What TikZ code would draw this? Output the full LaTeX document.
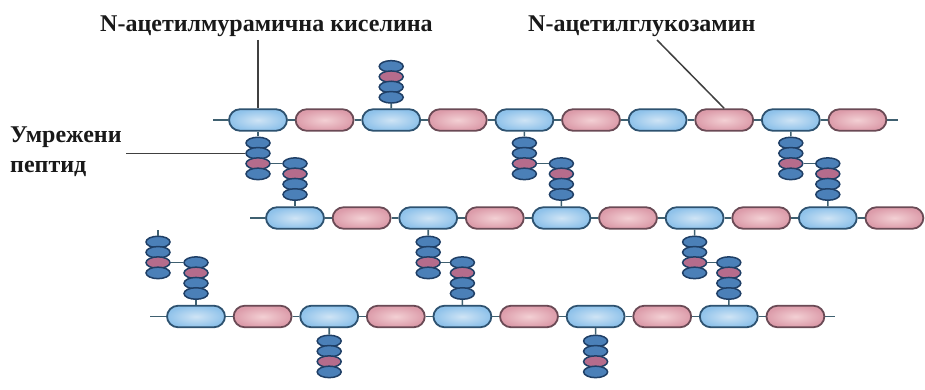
\documentclass[tikz,border=0pt]{standalone}
\usepackage{fontspec}
\usetikzlibrary{shapes.geometric}
\setmainfont{Liberation Serif}
\definecolor{sugarAin}{HTML}{CFE4F5}
\definecolor{sugarAout}{HTML}{8FC2EA}
\definecolor{sugarAline}{HTML}{2E5270}
\definecolor{sugarBin}{HTML}{F3D0D4}
\definecolor{sugarBout}{HTML}{DC9CAA}
\definecolor{sugarBline}{HTML}{6A4A55}
\definecolor{aminoA}{HTML}{4B80B8}
\definecolor{aminoB}{HTML}{B56C8C}
\definecolor{aminoline}{HTML}{1F3F66}
\definecolor{bondline}{HTML}{3F6070}
\tikzset{
  sugar/.style={rounded corners=11pt,minimum width=58pt,minimum height=21.5pt,inner sep=0pt,line width=1.8pt},
  sugarA/.style={sugar,draw=sugarAline,inner color=sugarAin,outer color=sugarAout},
  sugarB/.style={sugar,draw=sugarBline,inner color=sugarBin,outer color=sugarBout},
  amino/.style={ellipse,minimum width=24pt,minimum height=11.5pt,inner sep=0pt,draw=aminoline,line width=1.5pt},
  aminoA/.style={amino,fill=aminoA},
  aminoB/.style={amino,fill=aminoB},
  bond/.style={bondline,line width=1.6pt},
  leader/.style={black!75,line width=1.5pt},
  label/.style={font=\fontsize{24}{29}\selectfont\bfseries,inner sep=0pt,text=black!90}
}
% one glycan strand: name, x of first unit, y
\newcommand{\lanac}[3]{
  \foreach \i in {1,...,10}{
    \pgfmathsetmacro{\xpos}{#2+66.6*(\i-1)}
    \ifodd\i \node[sugarA] (#1\i) at (\xpos,#3) {};
    \else \node[sugarB] (#1\i) at (\xpos,#3) {};
    \fi
  }
  \foreach \i [remember=\i as \j (initially 1)] in {2,...,10}
    \draw[bond] (#1\j.east) -- (#1\i.west);
}
% four residues in a column: name, x, y of top residue, kinds
\newcommand{\peptid}[4]{
  \foreach \k [count=\n from 0] in {#4}{
    \pgfmathsetmacro{\ypos}{#3+10.3*\n}
    \pgfmathtruncatemacro{\m}{\n+1}
    \node[amino\k] (#1\m) at (#2,\ypos) {};
  }
}
\begin{document}
\begin{tikzpicture}[x=1pt,y=-1pt]
\useasboundingbox (0,0) rectangle (925,390);
\fill[white] (0,0) rectangle (925,390);

\coordinate (a0) at (213,120);
\coordinate (aend) at (898,120);
\coordinate (b0) at (250,218);
\coordinate (c0) at (150,316.5);
\coordinate (cend) at (835,316.5);
\coordinate (stub) at (158,230);

\lanac{a}{258}{120}
\lanac{b}{295}{218}
\lanac{c}{196}{316.5}
\draw[bond] (a0) -- (a1.west);
\draw[bond] (a10.east) -- (aend);
\draw[bond] (b0) -- (b1.west);
\draw[bond] (c0) -- (c1.west);
\draw[bond] (c10.east) -- (cend);

% peptides on the outer sides
\peptid{t}{391.2}{66.4}{A,B,A,A}
\draw[bond] (t4.south) -- (a3.north);
\peptid{u}{329.2}{341}{A,A,B,A}
\draw[bond] (c3.south) -- (u1.north);
\peptid{v}{595.6}{341}{A,A,B,A}
\draw[bond] (c7.south) -- (v1.north);

% cross-linked pairs
\peptid{d}{258}{143}{A,A,B,A}
\peptid{e}{295}{163.6}{A,B,A,A}
\draw[bond] (a1.south) -- (d1.north);
\draw[bond] (d3.east) -- (e1.west);
\draw[bond] (e4.south) -- (b1.north);

\peptid{f}{524.4}{143}{A,A,B,A}
\peptid{g}{561.4}{163.6}{A,B,A,A}
\draw[bond] (a5.south) -- (f1.north);
\draw[bond] (f3.east) -- (g1.west);
\draw[bond] (g4.south) -- (b5.north);

\peptid{h}{790.8}{143}{A,A,B,A}
\peptid{j}{827.8}{163.6}{A,B,A,A}
\draw[bond] (a9.south) -- (h1.north);
\draw[bond] (h3.east) -- (j1.west);
\draw[bond] (j4.south) -- (b9.north);

\peptid{k}{428.2}{242}{A,A,B,A}
\peptid{l}{462.4}{262.6}{A,B,A,A}
\draw[bond] (b3.south) -- (k1.north);
\draw[bond] (k3.east) -- (l1.west);
\draw[bond] (l4.south) -- (c5.north);

\peptid{m}{694.6}{242}{A,A,B,A}
\peptid{n}{728.8}{262.6}{A,B,A,A}
\draw[bond] (b7.south) -- (m1.north);
\draw[bond] (m3.east) -- (n1.west);
\draw[bond] (n4.south) -- (c9.north);

\peptid{o}{158}{242}{A,A,B,A}
\peptid{q}{196}{262.6}{A,B,A,A}
\draw[bond] (stub) -- (o1.north);
\draw[bond] (o3.east) -- (q1.west);
\draw[bond] (q4.south) -- (c1.north);

% labels
\node[label,anchor=base west] (lblmur) at (100,32) {N-ацетилмурамична киселина};
\node[label,anchor=base west] (lblglu) at (528,32) {N-ацетилглукозамин};
\node[label,anchor=base west] (lblpep1) at (10,143) {Умрежени};
\node[label,anchor=base west] (lblpep2) at (10,172) {пептид};
\coordinate (mur) at (258,40);
\coordinate (glu) at (657,40);
\coordinate (pep) at (126,153.3);
\draw[leader] (mur) -- (a1.north);
\draw[leader] (glu) -- (a8.north);
\draw[leader] (pep) -- (d2.west);
\end{tikzpicture}
\end{document}
